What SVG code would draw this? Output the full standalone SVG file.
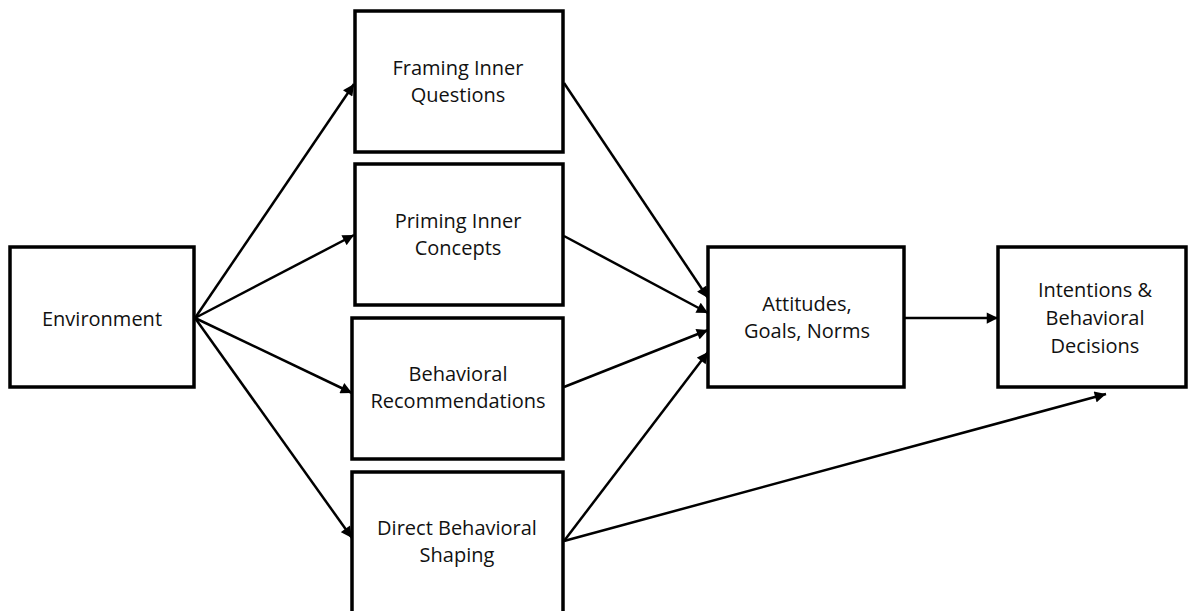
<svg xmlns="http://www.w3.org/2000/svg" width="1188" height="611" viewBox="0 0 1188 611">
<style>
.box{fill:#fff;stroke:#000;stroke-width:3.5}
.t{font-family:"Open Sans","Liberation Sans",sans-serif;font-size:20px;fill:#111;text-anchor:middle}
.c{stroke:#000;stroke-width:2.5;fill:none;marker-end:url(#ah)}
</style>
<defs>
<marker id="ah" viewBox="0 0 10 10" refX="10" refY="5" markerWidth="5" markerHeight="4.5" orient="auto" markerUnits="strokeWidth">
<path d="M0,0 L10,5 L0,10 Z" fill="#000"/>
</marker>
</defs>
<rect width="1188" height="611" fill="#fff"/>
<g id="connectors">
<line class="c" x1="195" y1="318" x2="354" y2="84"/>
<line class="c" x1="195" y1="318" x2="354" y2="235"/>
<line class="c" x1="195" y1="318" x2="352" y2="393"/>
<line class="c" x1="195" y1="318" x2="352" y2="538"/>
<line class="c" x1="564" y1="83" x2="708" y2="298"/>
<line class="c" x1="564" y1="236" x2="708" y2="313"/>
<line class="c" x1="564" y1="387" x2="708" y2="330"/>
<line class="c" x1="564" y1="541" x2="708" y2="352"/>
<line class="c" x1="904" y1="318" x2="998" y2="318"/>
<line class="c" x1="564" y1="541" x2="1106" y2="394"/>
</g>
<g id="environment">
<rect class="box" x="10" y="247" width="184" height="140"/>
<text class="t" x="102" y="326">Environment</text>
</g>
<g id="framing">
<rect class="box" x="355" y="11" width="208" height="141"/>
<text class="t" x="458" y="75">Framing Inner</text>
<text class="t" x="458" y="102">Questions</text>
</g>
<g id="priming">
<rect class="box" x="355" y="164" width="208" height="141"/>
<text class="t" x="458" y="228">Priming Inner</text>
<text class="t" x="458" y="255">Concepts</text>
</g>
<g id="recommendations">
<rect class="box" x="352" y="318" width="211" height="141"/>
<text class="t" x="458" y="381">Behavioral</text>
<text class="t" x="458" y="408">Recommendations</text>
</g>
<g id="shaping">
<rect class="box" x="352" y="472" width="211" height="150"/>
<text class="t" x="457" y="535">Direct Behavioral</text>
<text class="t" x="457" y="562">Shaping</text>
</g>
<g id="attitudes">
<rect class="box" x="708" y="247" width="196" height="140"/>
<text class="t" x="807" y="311">Attitudes,</text>
<text class="t" x="807" y="338">Goals, Norms</text>
</g>
<g id="intentions">
<rect class="box" x="998" y="247" width="188" height="140"/>
<text class="t" x="1095" y="297">Intentions &amp;</text>
<text class="t" x="1095" y="325">Behavioral</text>
<text class="t" x="1095" y="353">Decisions</text>
</g>
</svg>
